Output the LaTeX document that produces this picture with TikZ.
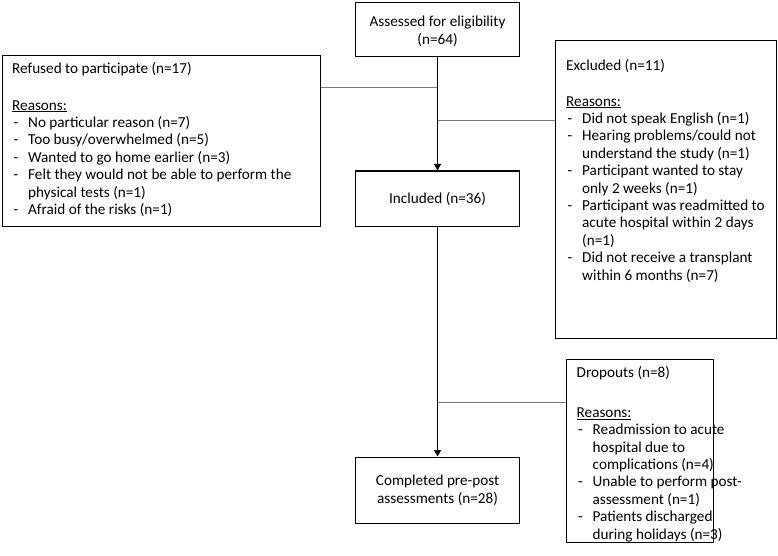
\documentclass[tikz,border=0pt]{standalone}
\usepackage{fontspec}
\setmainfont{Carlito}
\usetikzlibrary{arrows.meta}
\newcommand{\itm}[1]{\makebox[16pt][l]{\hspace{1.5pt}-}#1}
\newcommand{\cnt}[1]{\hspace*{16pt}#1}
\begin{document}
\begin{tikzpicture}[x=1pt,y=-1pt,
  box/.style={draw,line width=1.1pt,inner sep=0pt,anchor=north west},
  ctxt/.style={align=center,font=\fontsize{15.2}{18}\selectfont},
  txt/.style={inner sep=0pt,anchor=base west,align=left,font=\fontsize{15.2}{17.4}\selectfont},
  conn/.style={line width=0.9pt,-{Triangle[length=6.5pt,width=7pt]}},
  side/.style={line width=0.9pt,draw={rgb,255:red,120;green,120;blue,120}}]
\useasboundingbox (0,0) rectangle (778,556);

% main column boxes
\node[box,ctxt,minimum width=164pt,minimum height=54pt] (ass) at (355,2) {\rule{0pt}{14pt}Assessed for eligibility\\(n=64)};
\node[box,ctxt,minimum width=164pt,minimum height=55pt] (inc) at (355,170.5) {Included (n=36)};
\node[box,ctxt,minimum width=164pt,minimum height=66pt] (com) at (355,456.5) {Completed pre-post\\assessments (n=28)};

% side boxes
\node[box,minimum width=318pt,minimum height=171pt] (ref) at (2,55) {};
\node[box,minimum width=221pt,minimum height=298pt] (exc) at (555,40) {};
\node[box,minimum width=147pt,minimum height=183pt] (drp) at (566,359) {};

% texts of side boxes (anchor = baseline of last line)
\node[txt] (reft) at (12,214.5) {Refused to participate (n=17)\\[18.7pt]
\underline{Reasons:}\\
\itm{No particular reason (n=7)}\\
\itm{Too busy/overwhelmed (n=5)}\\
\itm{Wanted to go home earlier (n=3)}\\
\itm{Felt they would not be able to perform the}\\
\cnt{physical tests (n=1)}\\
\itm{Afraid of the risks (n=1)}};

\node[txt] (exct) at (566,280) {Excluded (n=11)\\[17.9pt]
\underline{Reasons:}\\
\itm{Did not speak English (n=1)}\\
\itm{Hearing problems/could not}\\
\cnt{understand the study (n=1)}\\
\itm{Participant wanted to stay}\\
\cnt{only 2 weeks (n=1)}\\
\itm{Participant was readmitted to}\\
\cnt{acute hospital within 2 days}\\
\cnt{(n=1)}\\
\itm{Did not receive a transplant}\\
\cnt{within 6 months (n=7)}};

\node[txt] (drpt) at (576.5,539) {Dropouts (n=8)\\[21.9pt]
\underline{Reasons:}\\
\itm{Readmission to acute}\\
\cnt{hospital due to}\\
\cnt{complications (n=4)}\\
\itm{Unable to perform post-}\\
\cnt{assessment (n=1)}\\
\itm{Patients discharged}\\
\cnt{during holidays (n=3)}};

% connectors
\coordinate (j1) at (437,87);
\coordinate (j2) at (437,120);
\coordinate (j3) at (437,402);
\draw[side] (ref.east |- j1) -- (j1);
\draw[side] (j2) -- (exc.west |- j2);
\draw[side] (j3) -- (drp.west |- j3);
\draw[conn] (ass.south) -- (inc.north);
\draw[conn] (inc.south) -- (com.north);
\end{tikzpicture}
\end{document}
